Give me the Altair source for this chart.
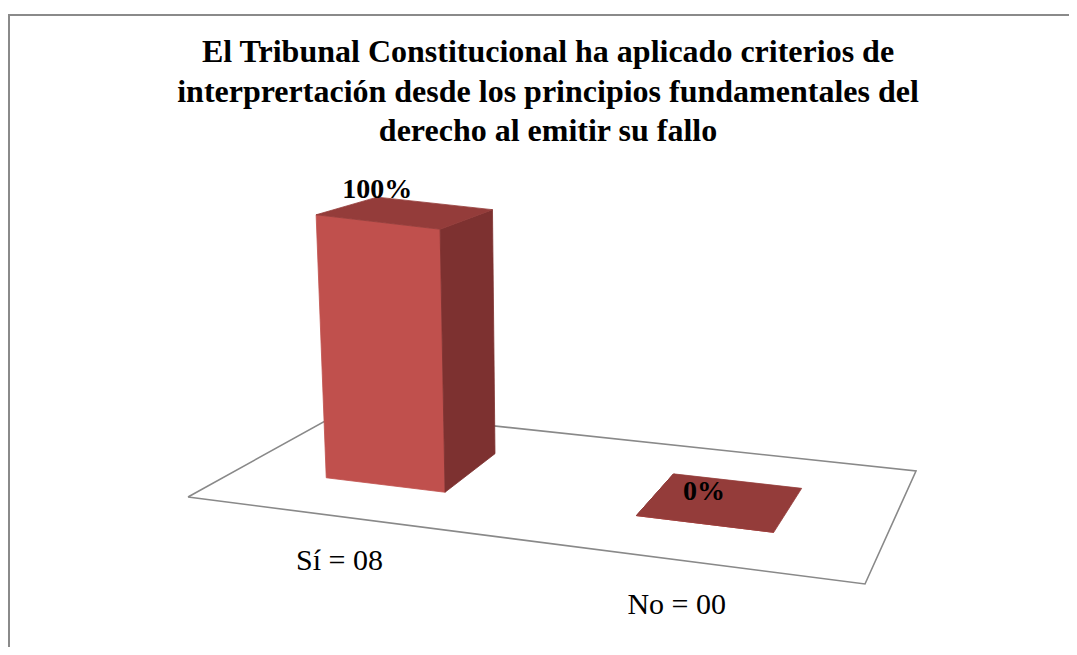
import altair as alt
import pandas as pd

# ---------------- data ----------------
categories = ["Sí = 08", "No = 00"]
percent = [100, 0]
value_labels = ["100%", "0%"]
title_lines = [
    "El Tribunal Constitucional ha aplicado criterios de",
    "interprertación desde los principios fundamentales del",
    "derecho al emitir su fallo",
]

# ---------------- pseudo-3D scene geometry ----------------
FLOOR_FL, FLOOR_FR, FLOOR_BR, FLOOR_BL = (188, 497), (865, 584), (916, 471), (345, 410)
PERSP = -0.135                              # foreshortening along the category axis
HALF_W = 0.1                                # half bar width (fraction of floor width)
T_FRONT, T_BACK = 0.34, 0.745               # bar depth on floor
VX, VY = 557, 6455                          # vertical vanishing point
H_FRONT, H_SLOPE = 2.63, 0.469              # height per percent (front) and its decrease with depth

COL_FRONT, COL_TOP, COL_SIDE = "#C0504D", "#943C3A", "#7D3130"
SERIF = "'Liberation Serif', 'Times New Roman', serif"

X0, X1, Y0, Y1 = 8, 1069, 8, 647            # visible scene extent (page pixels)


def warp(u):
    return u * (1 + PERSP) / (1 + PERSP * u)


def floor_pt(u, t):
    s = warp(u)
    fx = FLOOR_FL[0] + s * (FLOOR_FR[0] - FLOOR_FL[0])
    fy = FLOOR_FL[1] + s * (FLOOR_FR[1] - FLOOR_FL[1])
    bx = FLOOR_BL[0] + s * (FLOOR_BR[0] - FLOOR_BL[0])
    by = FLOOR_BL[1] + s * (FLOOR_BR[1] - FLOOR_BL[1])
    return fx + t * (bx - fx), fy + t * (by - fy)


def project(u, t, h):
    bx, by = floor_pt(u, t)
    hp = h * (H_FRONT - H_SLOPE * (t - T_FRONT))
    return bx + (bx - VX) * hp / (VY - by), by - hp


n = len(categories)
faces = {"front": [], "side": [], "top": []}
value_rows, cat_rows = [], []
for i, (cat, v, lab) in enumerate(zip(categories, percent, value_labels)):
    uc = (i + 0.5) / n
    u0, u1 = uc - HALF_W, uc + HALF_W
    side_u = u1 if floor_pt(uc, T_FRONT)[0] < VX else u0
    polys = {
        "front": [(u0, T_FRONT, 0), (u1, T_FRONT, 0), (u1, T_FRONT, v), (u0, T_FRONT, v)],
        "side": [(side_u, T_FRONT, 0), (side_u, T_BACK, 0), (side_u, T_BACK, v), (side_u, T_FRONT, v)],
        "top": [(u0, T_FRONT, v), (u1, T_FRONT, v), (u1, T_BACK, v), (u0, T_BACK, v)],
    }
    for face, pts in polys.items():
        pts = pts + [pts[0]]
        for k, p in enumerate(pts):
            x, y = project(*p)
            faces[face].append({"poly": f"{cat}-{face}", "ord": k, "x": x, "y": y})
    lx, ly = project(uc, T_FRONT, v)
    value_rows.append({"x": lx, "y": ly, "text": lab})
    cx, cy = floor_pt(uc, 0)
    cat_rows.append({"x": cx, "y": cy, "text": cat})

floor_rows = []
for k, (u, t) in enumerate([(0, 0), (1, 0), (1, 1), (0, 1), (0, 0)]):
    x, y = floor_pt(u, t)
    floor_rows.append({"ord": k, "x": x, "y": y})

title_rows = [{"x": 548, "y": 62 + 39.5 * i, "text": t} for i, t in enumerate(title_lines)]
frame_rows = [
    {"x": X0, "x2": X1, "y": 15, "y2": 15},
    {"x": 9, "x2": 9, "y": 15, "y2": Y1},
]

# ---------------- scales ----------------
xs = alt.Scale(domain=[X0, X1], nice=False, zero=False)
ys = alt.Scale(domain=[Y0, Y1], nice=False, zero=False, reverse=True)
X = alt.X("x:Q", scale=xs, axis=None)
Y = alt.Y("y:Q", scale=ys, axis=None)

frame = alt.Chart(pd.DataFrame(frame_rows)).mark_rule(color="#8A8A8A", strokeWidth=2).encode(
    x=X, x2="x2:Q", y=Y, y2="y2:Q"
)

floor = alt.Chart(pd.DataFrame(floor_rows)).mark_line(
    stroke="#898989", strokeWidth=1.6, strokeJoin="miter"
).encode(x=X, y=Y, order="ord:O")

layers = [frame, floor]
for face, col in [("front", COL_FRONT), ("side", COL_SIDE), ("top", COL_TOP)]:
    layers.append(
        alt.Chart(pd.DataFrame(faces[face])).mark_line(
            fill=col, stroke=col, strokeWidth=0.8, strokeJoin="miter"
        ).encode(x=X, y=Y, order="ord:O", detail="poly:N")
    )

title = alt.Chart(pd.DataFrame(title_rows)).mark_text(
    font=SERIF, fontSize=32, fontWeight="bold", align="center", baseline="alphabetic", color="#000000"
).encode(x=X, y=Y, text="text:N")

vlabels = alt.Chart(pd.DataFrame(value_rows)).mark_text(
    font=SERIF, fontSize=28, fontWeight="bold", align="center", baseline="alphabetic", dy=-24, color="#000000"
).encode(x=X, y=Y, text="text:N")

clabels = alt.Chart(pd.DataFrame(cat_rows)).mark_text(
    font=SERIF, fontSize=30, align="center", baseline="alphabetic", dy=54, color="#000000"
).encode(x=X, y=Y, text="text:N")

chart = alt.layer(*layers, title, vlabels, clabels).properties(
    width=X1 - X0, height=Y1 - Y0, autosize="none", padding=0, background="white"
).configure_view(stroke=None)

chart.save("out.html", embed_options={"renderer": "svg", "actions": False})
